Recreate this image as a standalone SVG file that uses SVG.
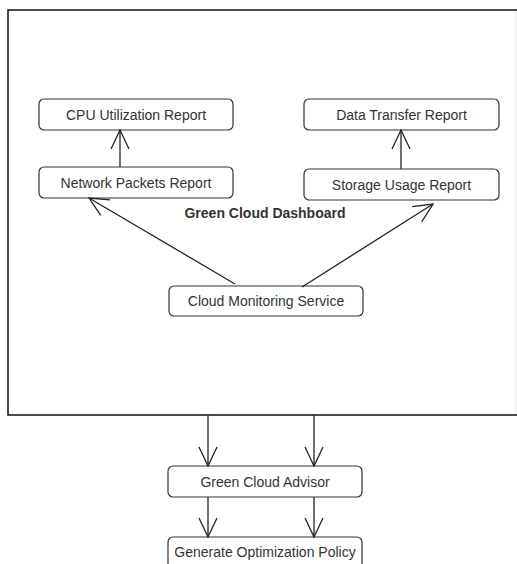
<svg xmlns="http://www.w3.org/2000/svg" width="517" height="564" viewBox="0 0 517 564">
  <style>
    .node rect { fill: #ffffff; stroke: #333333; stroke-width: 1.2; }
    .node text { font-family: "Liberation Sans", Arial, sans-serif; font-size: 14px; fill: #333333; text-anchor: middle; }
    .title { font-family: "Liberation Sans", Arial, sans-serif; font-size: 14px; font-weight: bold; fill: #333333; text-anchor: middle; }
    .edge { fill: none; stroke: #222222; stroke-width: 1.3; marker-end: url(#open); }
  </style>
  <defs>
    <marker id="open" viewBox="-20 -10 22 20" refX="0" refY="0" markerWidth="22" markerHeight="20" markerUnits="userSpaceOnUse" orient="auto">
      <path d="M -19 -9 L 0 0 L -19 9" fill="none" stroke="#222222" stroke-width="1.3"/>
    </marker>
  </defs>

  <rect x="0" y="0" width="517" height="564" fill="#ffffff"/>

  <!-- Dashboard container -->
  <g id="dashboard">
    <rect x="8" y="10" width="530" height="405" fill="#ffffff" stroke="#111111" stroke-width="1.5"/>
    <line x1="516" y1="11" x2="516" y2="414" stroke="#e6e6e6" stroke-width="1"/>
    <text class="title" x="265" y="218">Green Cloud Dashboard</text>
  </g>

  <g id="cpu-report" class="node">
    <rect x="39" y="99" width="194" height="31" rx="5"/>
    <text x="136" y="119.5">CPU Utilization Report</text>
  </g>
  <g id="network-report" class="node">
    <rect x="39" y="167" width="194" height="31" rx="5"/>
    <text x="136" y="187.5">Network Packets Report</text>
  </g>
  <g id="data-transfer-report" class="node">
    <rect x="304" y="99" width="195" height="31" rx="5"/>
    <text x="401.5" y="119.5">Data Transfer Report</text>
  </g>
  <g id="storage-report" class="node">
    <rect x="304" y="169" width="195" height="31" rx="5"/>
    <text x="401.5" y="189.5">Storage Usage Report</text>
  </g>
  <g id="monitoring-service" class="node">
    <rect x="169" y="286" width="194" height="30" rx="5"/>
    <text x="266" y="306">Cloud Monitoring Service</text>
  </g>
  <g id="advisor" class="node">
    <rect x="168" y="466" width="194" height="31" rx="5"/>
    <text x="265" y="486.5">Green Cloud Advisor</text>
  </g>
  <g id="optimization-policy" class="node">
    <rect x="168" y="537" width="194" height="40" rx="5"/>
    <text x="265" y="557">Generate Optimization Policy</text>
  </g>

  <g id="connectors">
    <line class="edge" x1="120" y1="167" x2="120" y2="130"/>
    <line class="edge" x1="401" y1="169" x2="401" y2="130"/>
    <line class="edge" x1="235" y1="284" x2="89" y2="198"/>
    <line class="edge" x1="302" y1="287" x2="433" y2="204"/>
    <line class="edge" x1="208" y1="415" x2="208" y2="466"/>
    <line class="edge" x1="314" y1="415" x2="314" y2="466"/>
    <line class="edge" x1="208" y1="497" x2="208" y2="537"/>
    <line class="edge" x1="314" y1="497" x2="314" y2="537"/>
  </g>
</svg>
